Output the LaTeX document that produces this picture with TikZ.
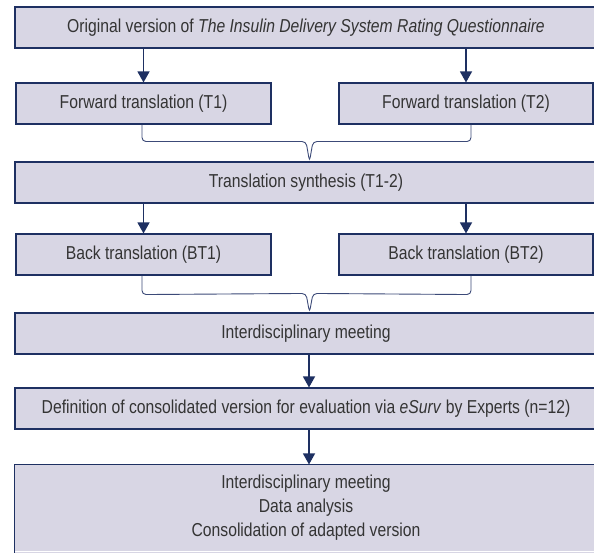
\documentclass[tikz,border=0pt]{standalone}
\usepackage{fontspec}
\setmainfont{Liberation Sans}[FakeStretch=0.84]
\usetikzlibrary{arrows.meta,calc}
\definecolor{boxfill}{RGB}{216,214,228}
\definecolor{navy}{RGB}{30,48,98}
\definecolor{bracecol}{RGB}{60,74,120}
\definecolor{txt}{RGB}{52,52,52}
\begin{document}
\begin{tikzpicture}[x=1pt,y=-1pt,
  box/.style={draw=navy,fill=boxfill,line width=1.1pt,inner sep=0pt,
    text=txt,font=\fontsize{18.7}{24}\selectfont,align=center},
  wide/.style={box,minimum width=582,minimum height=41},
  narrow/.style={box,minimum width=255,minimum height=41},
  arr/.style={draw=navy,line width=1.3pt,-{Triangle[width=12pt,length=11pt]}},
  bracel/.style={draw=bracecol,line width=0.9pt}]
\clip (0,0) rectangle (594,553);
\fill[white] (0,0) rectangle (594,553);
% boxes
\node[wide] (orig) at (306,27.5) {Original version of \textit{The Insulin Delivery System Rating Questionnaire}};
\node[narrow] (t1) at (143.5,103.5) {Forward translation (T1)};
\node[narrow,minimum width=254] (t2) at (466,103.5) {Forward translation (T2)};
\node[wide] (syn) at (306,182.5) {Translation synthesis (T1-2)};
\node[narrow] (bt1) at (143.5,254.5) {Back translation (BT1)};
\node[narrow,minimum width=254] (bt2) at (466,254.5) {Back translation (BT2)};
\node[wide] (meet) at (306,333.5) {Interdisciplinary meeting};
\node[wide] (def) at (306,408.5) {Definition of consolidated version for evaluation via \textit{eSurv} by Experts (n=12)};
\node[wide,minimum height=86,draw=none] (fin) at (306,508) {Interdisciplinary meeting\\Data analysis\\Consolidation of adapted version};
\fill[boxfill] (fin.south west) rectangle ($(fin.south east)+(0,12)$);
\draw[navy,line width=1.1pt] ($(fin.south west)+(0,12)$) -- (fin.north west) -- (fin.north east);
% arrows
\draw[arr] (orig.south -| t1) -- (t1.north);
\draw[arr] (orig.south -| t2) -- (t2.north);
\draw[arr] (syn.south -| bt1) -- (bt1.north);
\draw[arr] (syn.south -| bt2) -- (bt2.north);
\draw[arr] (meet.south -| 309,0) -- (def.north -| 309,0);
\draw[arr] (def.south -| 309,0) -- (fin.north -| 309,0);
% braces
\coordinate (v1) at (syn.north -| 309.5,0);
\draw[bracel,rounded corners=4pt] ($(t1.south)+(-1.5,0)$) -- ($(t1.south)+(-1.5,17)$) -- ($(v1)+(-3.5,-20)$) -- (v1) -- ($(v1)+(3.5,-20)$) -- ($(t2.south)+(5,17)$) -- ($(t2.south)+(5,0)$);
\coordinate (v2) at (meet.north -| 309.5,0);
\draw[bracel,rounded corners=4pt] ($(bt1.south)+(-1.5,0)$) -- ($(bt1.south)+(-1.5,19)$) -- ($(v2)+(-3.5,-19)$) -- (v2) -- ($(v2)+(3.5,-19)$) -- ($(bt2.south)+(5,19)$) -- ($(bt2.south)+(5,0)$);
\end{tikzpicture}
\end{document}
